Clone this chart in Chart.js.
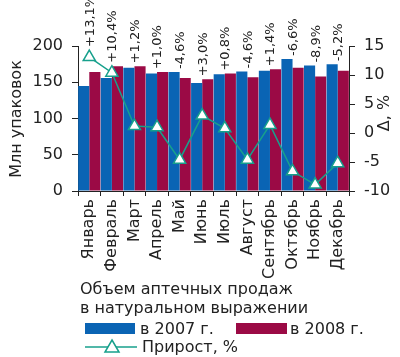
<!DOCTYPE html>
<html>
<head>
<meta charset="utf-8">
<script src="https://cdn.jsdelivr.net/npm/chart.js@4/dist/chart.umd.min.js"></script>
<style>
html,body{margin:0;padding:0;background:#fff;}
#wrap{width:400px;height:357px;}
</style>
</head>
<body>
<div id="wrap"><canvas id="c" width="400" height="357"></canvas></div>
<script>
const months = ['Январь','Февраль','Март','Апрель','Май','Июнь','Июль','Август','Сентябрь','Октябрь','Ноябрь','Декабрь'];
const sales2007 = [145, 156, 170, 162, 164, 149, 161, 165, 166, 182, 173, 175];
const sales2008 = [164, 172, 172, 164, 156, 154, 162, 157, 168, 170, 158, 166];
const growth = [13.1, 10.4, 1.2, 1.0, -4.6, 3.0, 0.8, -4.6, 1.4, -6.6, -8.9, -5.2];
const growthLabels = ['+13,1%','+10,4%','+1,2%','+1,0%','-4,6%','+3,0%','+0,8%','-4,6%','+1,4%','-6,6%','-8,9%','-5,2%'];
const leftTicks = [0, 50, 100, 150, 200];
const rightTicks = [-10, -5, 0, 5, 10, 15];

const BLUE = '#0a64b4', RED = '#9b0a45', TEAL = '#17a08c';
const FONT = '"DejaVu Sans", sans-serif';

const extras = {
  id: 'extras',
  afterDatasetsDraw(chart) {
    const ctx = chart.ctx;
    const x = chart.scales.x, y = chart.scales.y, y1 = chart.scales.y1;
    ctx.save();
    ctx.fillStyle = '#222';
    ctx.font = '13px ' + FONT;
    ctx.textAlign = 'left';
    ctx.textBaseline = 'middle';
    months.forEach((m, i) => {
      const cx = x.getPixelForValue(i);
      let top = Math.min(y.getPixelForValue(sales2007[i]), y.getPixelForValue(sales2008[i]), y1.getPixelForValue(growth[i]) - 7);
      ctx.save();
      ctx.translate(cx + 1, top - 3);
      ctx.rotate(-Math.PI / 2);
      ctx.fillText(growthLabels[i], 0, 0);
      ctx.restore();
    });
    ctx.restore();
  },
  afterDraw(chart) {
    const ctx = chart.ctx;
    ctx.save();
    ctx.fillStyle = '#222';
    // axis titles
    ctx.font = '16px ' + FONT;
    ctx.textAlign = 'center';
    ctx.textBaseline = 'middle';
    ctx.save();
    ctx.translate(17, 119);
    ctx.rotate(-Math.PI / 2);
    ctx.fillText('Млн упаковок', 0, 0);
    ctx.restore();
    ctx.save();
    ctx.translate(385, 113);
    ctx.rotate(-Math.PI / 2);
    ctx.fillText('Δ, %', 0, 0);
    ctx.restore();
    // legend
    ctx.textAlign = 'left';
    ctx.textBaseline = 'alphabetic';
    ctx.font = '16px ' + FONT;
    ctx.fillText('Объем аптечных продаж', 80, 294);
    ctx.fillText('в натуральном выражении', 80, 313);
    ctx.fillStyle = BLUE;
    ctx.fillRect(85, 323, 50, 11);
    ctx.fillStyle = RED;
    ctx.fillRect(236, 323, 51, 11);
    ctx.fillStyle = '#222';
    ctx.fillText('в 2007 г.', 140, 334);
    ctx.fillText('в 2008 г.', 290, 334);
    ctx.strokeStyle = TEAL;
    ctx.lineWidth = 1.5;
    ctx.beginPath();
    ctx.moveTo(85, 347); ctx.lineTo(137, 347);
    ctx.stroke();
    ctx.fillStyle = '#fff';
    ctx.lineWidth = 1.5;
    ctx.beginPath();
    ctx.moveTo(112, 340); ctx.lineTo(119, 352); ctx.lineTo(105, 352); ctx.closePath();
    ctx.fill(); ctx.stroke();
    ctx.fillStyle = '#222';
    ctx.fillText('Прирост, %', 142, 352);
    ctx.restore();
  }
};

new Chart(document.getElementById('c'), {
  data: {
    labels: months,
    datasets: [
      { type: 'line', label: 'Прирост, %', data: growth, yAxisID: 'y1', order: 0,
        borderColor: TEAL, borderWidth: 1.5, pointStyle: 'triangle', pointRadius: 7,
        pointBackgroundColor: '#fff', pointBorderColor: TEAL, pointBorderWidth: 1.5, tension: 0 },
      { type: 'bar', label: 'в 2007 г.', data: sales2007, yAxisID: 'y', order: 1,
        backgroundColor: BLUE, categoryPercentage: 0.985, barPercentage: 1.0 },
      { type: 'bar', label: 'в 2008 г.', data: sales2008, yAxisID: 'y', order: 1,
        backgroundColor: RED, categoryPercentage: 0.985, barPercentage: 1.0 }
    ]
  },
  options: {
    responsive: false,
    animation: false,
    layout: { padding: { top: 46, left: 0, right: 0, bottom: 0 } },
    plugins: { legend: { display: false }, tooltip: { enabled: false } },
    scales: {
      x: {
        afterFit(s) { s.height = 166; },
        grid: { drawOnChartArea: false, offset: true, tickLength: 5, color: '#222' },
        border: { color: '#222', width: 1 },
        ticks: { color: '#222', font: { family: FONT, size: 16 }, minRotation: 90, maxRotation: 90, padding: 3, autoSkip: false }
      },
      y: {
        position: 'left', min: 0, max: 200,
        afterFit(s) { s.width = 78; },
        afterBuildTicks(s) { s.ticks = leftTicks.map(v => ({ value: v })); },
        grid: { drawOnChartArea: false, tickLength: 6, color: '#222' },
        border: { color: '#222', width: 1 },
        ticks: { color: '#222', font: { family: FONT, size: 16 }, padding: 9 }
      },
      y1: {
        position: 'right', min: -10, max: 15,
        afterFit(s) { s.width = 51; },
        afterBuildTicks(s) { s.ticks = rightTicks.map(v => ({ value: v })); },
        grid: { drawOnChartArea: false, tickLength: 6, color: '#222' },
        border: { color: '#222', width: 1 },
        ticks: { color: '#222', font: { family: FONT, size: 16 }, padding: 9 }
      }
    }
  },
  plugins: [extras]
});
</script>
</body>
</html>
